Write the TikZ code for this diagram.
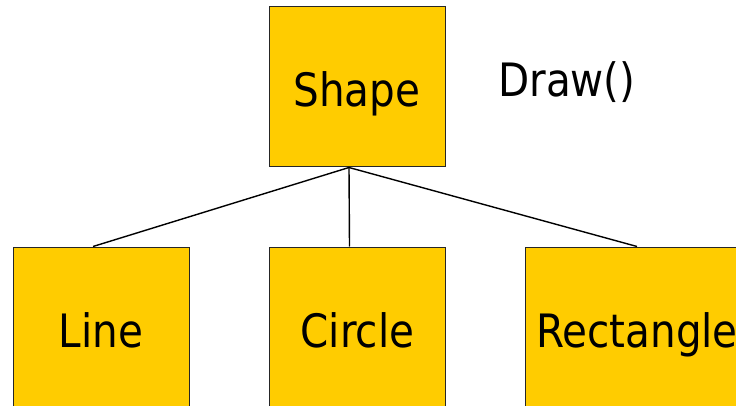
\documentclass[tikz,border=0pt]{standalone}
\usepackage{fontspec}
\newfontfamily\diagfont[FakeStretch=0.88]{DejaVu Sans}
\definecolor{boxfill}{HTML}{FFCC00}
\begin{document}
\begin{tikzpicture}[x=1pt,y=-1pt,
  classbox/.style={draw=black!85, line width=1pt, fill=boxfill,
    minimum width=176pt, minimum height=160pt, inner sep=0pt,
    text height=40pt, text depth=0pt,
    font=\diagfont\fontsize{46}{54}\selectfont},
  link/.style={draw=black, line width=1.4pt},
  note/.style={inner sep=0pt, anchor=base west,
    font=\diagfont\fontsize{46}{54}\selectfont}]
  \useasboundingbox (0,0) rectangle (736,406);
  \clip (0,0) rectangle (736,406);

  % base class
  \node[classbox] (shape) at (357,87) {Shape};
  \node[note] (draw) at (498,97) {Draw()};

  % derived classes
  \node[classbox] (line) at (101,327) {Line};
  \node[classbox] (circle) at (357.5,327) {Circle};
  \node[classbox, minimum width=224pt] (rect) at (637,327) {Rectangle};

  % inheritance connectors
  \coordinate (hub) at ([xshift=-8pt]shape.south);
  \coordinate (lineTop) at ([xshift=-8pt]line.north);
  \coordinate (circleTop) at ([xshift=-8pt]circle.north);
  \draw[link] (hub) -- (lineTop);
  \draw[link] (hub) -- (circleTop);
  \draw[link] (hub) -- (rect.north);
\end{tikzpicture}
\end{document}
